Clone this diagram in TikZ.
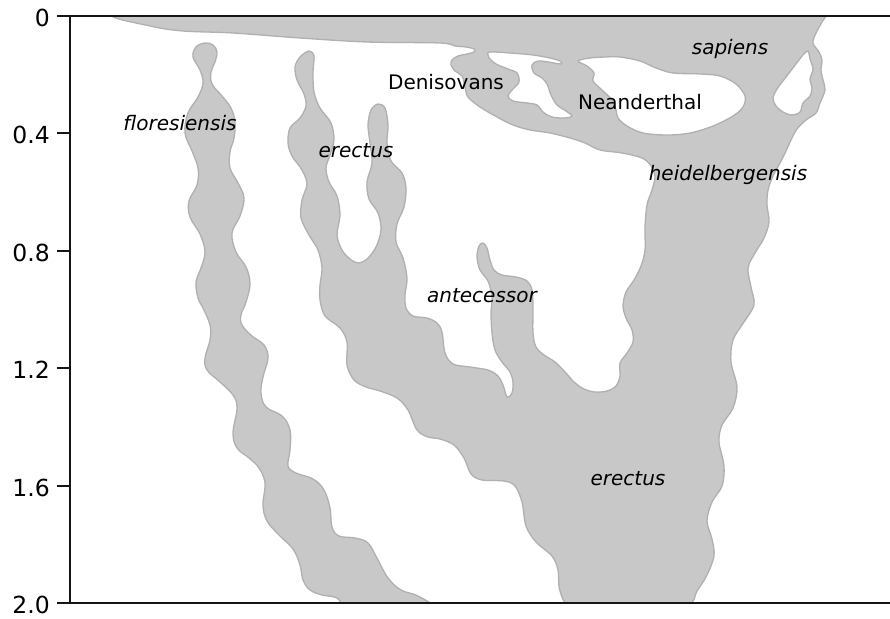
\documentclass[tikz,border=0pt]{standalone}
\usepackage{fontspec}
\setmainfont{DejaVu Sans}
\usetikzlibrary{positioning}
\definecolor{hmnFill}{HTML}{C8C8C8}
\definecolor{hmnEdge}{HTML}{B0B0B0}
\definecolor{hmnAxis}{HTML}{151515}
\tikzset{
  blob/.style={fill=hmnFill, draw=hmnEdge, line width=1.3pt, even odd rule},
  spine/.style={draw=hmnAxis, line width=2.4pt},
  ticmark/.style={draw=hmnAxis, line width=2pt},
  taxon/.style={font=\fontsize{20}{24}\selectfont\itshape, inner sep=0pt, anchor=base},
  taxonup/.style={taxon, font=\fontsize{20}{24}\selectfont},
  ticklbl/.style={font=\fontsize{23.5}{28}\selectfont, inner sep=0pt, yshift=-2pt},
}

\begin{document}
\begin{tikzpicture}[x=1pt, y=-1pt]
\useasboundingbox (0,0) rectangle (890,618);

\begin{scope}
\clip (70,16) rectangle (890,603);
% floresiensis
\filldraw[blob] plot[smooth cycle, tension=0.62] coordinates {
  (205,43) (213,45) (217,52) (215,62) (211,72) (212,84) (222,96) (231,108)
  (235,122) (234,138) (230,152) (230,168) (238,183) (244,198) (240,216)
  (232,233) (236,252) (246,267) (250,284) (246,302) (241,315) (242,325)
  (252,336) (264,345) (268,358) (263,377) (261,393) (266,407) (282,416)
  (290,430) (290,450) (288,466) (296,473) (313,479) (324,490) (330,508)
  (332,527) (339,536) (355,538) (368,543) (378,560) (388,578) (401,590)
  (418,596) (432,608) (390,614) (348,608) (337,598) (322,595) (310,590)
  (303,580) (300,565) (293,549) (279,535) (267,521) (263,505) (265,483)
  (259,468) (249,458) (237,448) (233,433) (237,408) (233,395) (220,382)
  (207,370) (205,358) (210,340) (210,325) (203,308) (198,298) (196,282)
  (201,268) (205,252) (200,234) (190,217) (189,201) (197,185) (198,168)
  (192,151) (185,133) (188,113) (198,97) (203,83) (200,70) (193,57) (196,47)};

% erectus trunk, heidelbergensis and the top band, with its holes
\filldraw[blob] plot[smooth cycle, tension=0.55] coordinates {
  (113,15) (200,10) (400,10) (600,10) (800,10) (826,12)
  (822,22) (816,33) (813,43) (819,52) (822,60) (821,70) (823,80) (825,90)
  (820,103) (816,113) (806,120) (797,129) (791,140) (786,151) (780,163)
  (773,176) (768,190) (767,205) (769,222) (764,238) (755,253) (748,268)
  (751,287) (754,305) (744,322) (733,340) (731,362) (737,387) (733,408)
  (722,425) (719,442) (724,466) (722,486) (712,502) (707,521) (712,539)
  (714,556) (707,575) (697,591) (686,606) (628,612) (572,606)
  (560,591) (558,570) (552,556) (536,542) (526,526) (522,502) (515,486)
  (504,481) (482,480) (471,474) (464,458) (454,445) (440,439) (428,437)
  (417,430) (408,410) (397,398) (380,391) (366,387) (354,380) (347,365)
  (347,342) (340,328) (325,316) (320,300) (320,285) (322,268) (318,250)
  (309,235) (301,218) (302,200) (307,184) (302,170) (292,156) (288,143)
  (290,128) (300,118) (306,106) (304,94) (297,80) (295,67) (300,57)
  (309,51) (314,56) (313,72) (314,92) (320,108) (331,123) (334,140)
  (330,155) (326,168) (329,182) (337,196) (340,215) (337,235) (342,250)
  (350,259) (358,263) (367,259) (376,247) (381,230) (378,213) (369,199)
  (367,182) (372,163) (370,143) (368,125) (371,110) (378,104) (385,108)
  (388,125) (387,143) (391,161) (402,173) (406,188) (404,207) (397,224)
  (396,242) (403,258) (407,278) (405,295) (406,308) (413,316) (427,318)
  (437,323) (442,332) (445,353) (453,364) (470,367) (488,370) (498,376)
  (503,385) (507,397) (512,393) (513,382) (510,372) (502,362) (495,350)
  (492,333) (491,313) (492,297) (488,281) (480,270) (477,257) (479,246)
  (483,243) (487,248) (490,260) (494,270) (502,275) (516,277) (527,281)
  (532,290) (533,308) (533,333) (536,347) (544,355) (555,362) (566,373)
  (574,382) (584,389) (595,392) (607,391) (616,386) (620,376) (620,363)
  (627,353) (633,342) (632,330) (626,318) (623,306) (626,292) (634,280)
  (641,266) (645,250) (645,227) (647,205) (652,190) (655,177) (651,166)
  (642,158) (622,153) (600,150) (585,143) (570,138) (550,133) (530,130)
  (513,125) (497,117) (480,107) (468,97) (465,87) (462,76) (455,71)
  (451,65) (452,60) (458,56) (467,54) (474,52) (474,49) (466,47) (455,46)
  (440,43) (367,42) (300,38) (233,33) (183,31) (150,26)}
  plot[smooth cycle, tension=0.55] coordinates {
  (490,52) (510,53) (533,55) (550,58) (560,61) (561,64) (548,62) (538,61)
  (532,65) (534,73) (542,78) (547,84) (551,95) (557,105) (566,111) (572,116)
  (565,118) (552,117) (543,112) (537,105) (527,103) (513,101) (508,96)
  (513,89) (519,82) (517,73) (508,69) (496,64) (490,59) (488,55)}
  plot[smooth cycle, tension=0.55] coordinates {
  (578,61) (590,58) (605,57) (620,57) (640,61) (656,68) (673,73) (700,74)
  (720,76) (736,84) (745,96) (743,107) (733,116) (713,126) (690,133)
  (667,135) (643,133) (627,126) (618,118) (616,110) (612,100) (602,90)
  (593,81) (594,73) (587,66)}
  plot[smooth cycle, tension=0.55] coordinates {
  (808,51) (810,59) (813,69) (810,79) (812,88) (810,96) (803,103) (800,112)
  (792,115) (783,112) (776,106) (773,98) (777,89) (786,77) (796,64) (803,55)};
\end{scope}

% axes
\draw[spine] (70,603) -- (70,16) -- (890,16);
\draw[spine] (70,603) -- (890,603);
\foreach \v [count=\i from 0] in {0,0.4,0.8,1.2,1.6,2.0} {
  \coordinate (t\i) at (57,16+\i*117.4);
  \draw[ticmark] (t\i) -- ++(13,0);
  \node[ticklbl, left=7pt of t\i] (T\i) {\v};
}

% taxa
\node[taxon]   (F)  at (180,130) {floresiensis};
\node[taxon]   (E1) at (356,157) {erectus};
\node[taxonup] (Dn) at (446,89)  {Denisovans};
\node[taxonup] (Nd) at (640,109) {Neanderthal};
\node[taxon]   (Sp) at (730,54)  {sapiens};
\node[taxon]   (Hd) at (728,180) {heidelbergensis};
\node[taxon]   (An) at (482,302) {antecessor};
\node[taxon]   (E2) at (628,485) {erectus};

\end{tikzpicture}
\end{document}
